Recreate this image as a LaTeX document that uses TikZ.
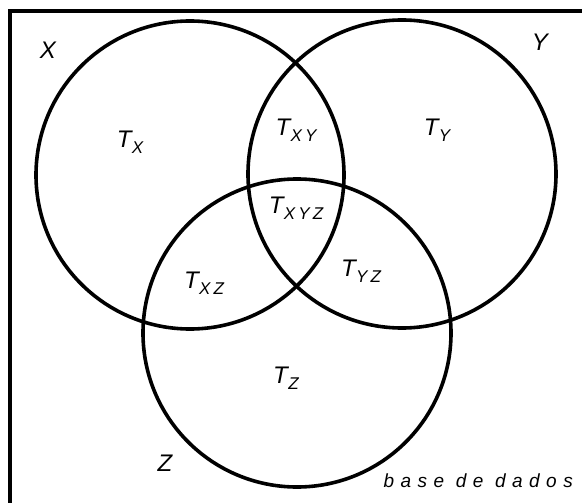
\documentclass[tikz,border=0pt]{standalone}
\usepackage{fontspec}
\setmainfont{Liberation Sans}
\newfontfamily\espsub[LetterSpace=18]{Liberation Sans}
\newfontfamily\espbase[LetterSpace=34]{Liberation Sans}
\usetikzlibrary{calc}

% rotulo T com indice espacado
\newcommand{\conj}[1]{T\kern0.5pt\raisebox{-5.5pt}{\fontsize{17}{17}\selectfont\espsub\itshape #1}}

\begin{document}
\begin{tikzpicture}[x=1pt, y=-1pt,
    circulo/.style={line width=3.6pt},
    rotulo/.style={font=\fontsize{24}{24}\selectfont\itshape, inner sep=0pt},
    nome/.style={font=\fontsize{24}{24}\selectfont\itshape, inner sep=0pt}]

    % =================================================================
    % 1. AREA DA FIGURA E MOLDURA
    % =================================================================
    \useasboundingbox (0,0) rectangle (582,503);
    \clip (0,0) rectangle (582,503);
    \draw[line width=4.5pt] (10,11) rectangle (640,560);

    % =================================================================
    % 2. CENTROS DOS TRES CONJUNTOS
    % =================================================================
    \coordinate (X) at (190,175);
    \coordinate (Y) at (402,174);
    \coordinate (Z) at (297,333);

    % =================================================================
    % 3. CIRCULOS
    % =================================================================
    \draw[circulo] (X) circle (154);
    \draw[circulo] (Y) circle (154);
    \draw[circulo] (Z) circle (154);

    % =================================================================
    % 4. ROTULOS
    % =================================================================
    \node[nome] (nX) at (48,50) {X};
    \node[nome] (nY) at (540,42) {Y};
    \node[nome] (nZ) at (165,463) {Z};

    \node[rotulo] (tX) at (130,142) {\conj{X}};
    \node[rotulo] (tY) at (437,130) {\conj{Y}};
    \node[rotulo] (tXY) at (296,130) {\conj{XY}};
    \node[rotulo] (tXYZ) at (296,208) {\conj{XYZ}};
    \node[rotulo] (tXZ) at (204,283) {\conj{XZ}};
    \node[rotulo] (tYZ) at (361,271) {\conj{YZ}};
    \node[rotulo] (tZ) at (286,378) {\conj{Z}};

    \node[font=\fontsize{19}{19}\selectfont\espbase\itshape, inner sep=0pt, anchor=east]
        (base) at (573,481) {base de dados};

\end{tikzpicture}
\end{document}
